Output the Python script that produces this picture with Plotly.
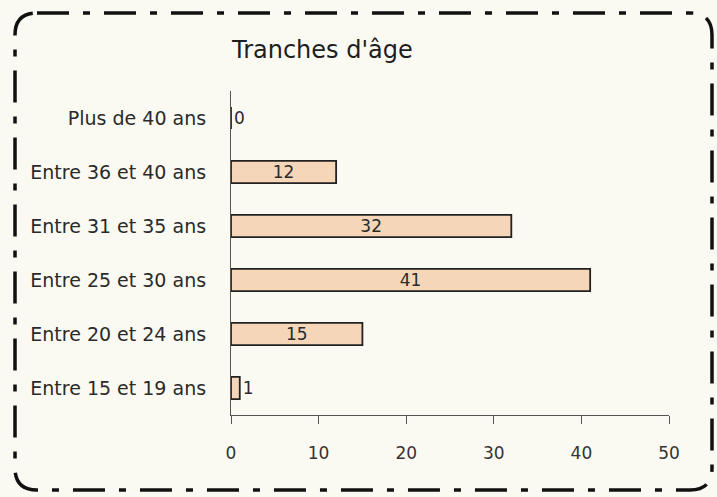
import plotly.graph_objects as go

categories = ["Entre 15 et 19 ans", "Entre 20 et 24 ans", "Entre 25 et 30 ans",
              "Entre 31 et 35 ans", "Entre 36 et 40 ans", "Plus de 40 ans"]
values = [1, 15, 41, 32, 12, 0]
x_ticks = [0, 10, 20, 30, 40, 50]
title_text = "Tranches d'âge"

W, H = 717, 497
L, R, T, B = 231, 48, 91, 82
pw, ph = W - L - R, H - T - B

def px(x):
    return (x - L) / pw

def py(y):
    return (H - B - y) / ph

FONT = "'DejaVu Sans', 'Noto Sans', sans-serif"
TXT = "#2a2a2a"

positions = ["outside" if v < 5 else "inside" for v in values]

fig = go.Figure(go.Bar(
    y=categories, x=values, orientation="h",
    width=0.41,
    marker=dict(color="#f6d6b8", line=dict(color="#222222", width=1.8)),
    text=[str(v) for v in values], textposition=positions,
    insidetextanchor="middle", textangle=0,
    textfont=dict(family=FONT, size=17, color=TXT),
    constraintext="none",
    cliponaxis=False,
))

# rounded dash-dot frame
x0, x1, y0, y1, r = 15, 712, 13, 490, 22
path = (f"M {px(x0+r)},{py(y0)} L {px(x1-r)},{py(y0)} "
        f"Q {px(x1)},{py(y0)} {px(x1)},{py(y0+r)} "
        f"L {px(x1)},{py(y1-r)} Q {px(x1)},{py(y1)} {px(x1-r)},{py(y1)} "
        f"L {px(x0+r)},{py(y1)} Q {px(x0)},{py(y1)} {px(x0)},{py(y1-r)} "
        f"L {px(x0)},{py(y0+r)} Q {px(x0)},{py(y0)} {px(x0+r)},{py(y0)} Z")

fig.update_layout(
    width=W, height=H,
    margin=dict(l=L, r=R, t=T, b=B),
    paper_bgcolor="#fbfaf2", plot_bgcolor="rgba(0,0,0,0)",
    showlegend=False,
    title=dict(text=title_text, xref="container", x=232 / W, xanchor="left",
               yref="container", y=1 - 50 / H, yanchor="middle",
               font=dict(family=FONT, size=24, color="#1e1e1e")),
    shapes=[dict(type="path", path=path, xref="paper", yref="paper",
                 line=dict(color="#111111", width=3.5, dash="32px,14px,7px,14px"), layer="above")],
    xaxis=dict(range=[0, 50], tickvals=x_ticks, showgrid=False, zeroline=False,
               showline=True, linecolor="#555555", linewidth=1.2,
               ticks="outside", ticklen=8, tickcolor="#555555", ticklabelstandoff=14,
               tickfont=dict(family=FONT, size=17, color="#333333")),
    yaxis=dict(categoryorder="array", categoryarray=categories, range=[-0.5, 5.5],
               showgrid=False, zeroline=False, showline=True, linecolor="#555555", linewidth=1.2,
               ticks="", ticklabelstandoff=20,
               tickfont=dict(family=FONT, size=19, color=TXT)),
)

fig.write_html("out.html", config={"displayModeBar": False},
               post_script="document.body.style.margin='0';document.body.style.overflow='hidden';")
